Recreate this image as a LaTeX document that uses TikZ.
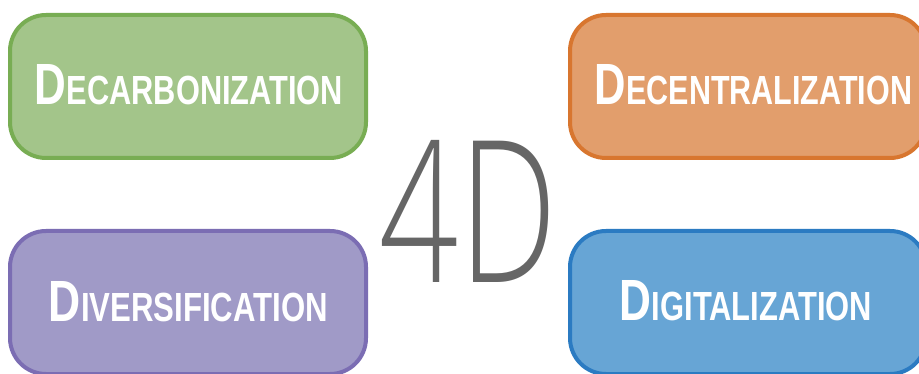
\documentclass[tikz,border=0pt]{standalone}
\usepackage{fontspec}
\setmainfont{Liberation Sans}
\newfontfamily\fourdfont{Open Sans Light}
\definecolor{gfill}{HTML}{A3C58A}
\definecolor{gline}{HTML}{78AD53}
\definecolor{ofill}{HTML}{E29E6C}
\definecolor{oline}{HTML}{D8762F}
\definecolor{pfill}{HTML}{A09AC7}
\definecolor{pline}{HTML}{7B6DB3}
\definecolor{bfill}{HTML}{67A5D5}
\definecolor{bline}{HTML}{2B7BC2}
\definecolor{fourd}{HTML}{666666}
\newcommand{\sclabel}[3]{\resizebox{#1pt}{40pt}{\bfseries\fontsize{20}{20}\selectfont #2\fontsize{14}{14}\selectfont #3}}
\begin{document}
\begin{tikzpicture}[x=1pt,y=-1pt,
  roundbox/.style={rectangle, rounded corners=36pt, line width=4pt,
    minimum width=356pt, minimum height=143pt, inner sep=0pt,
    text=white, anchor=center}]
\useasboundingbox (0,0) rectangle (919,374);
\clip (0,0) rectangle (919,374);
\fill[white] (0,0) rectangle (919,374);
\node[roundbox, fill=gfill, draw=gline] (decarb) at (188,86.5) {};
\node[text=white, inner sep=0pt] (decarbt) at (189,85) {\sclabel{308}{D}{ECARBONIZATION}};
\node[roundbox, fill=ofill, draw=oline] (decen) at (748,86.5) {};
\node[text=white, inner sep=0pt] (decent) at (753.5,85) {\sclabel{317}{D}{ECENTRALIZATION}};
\node[roundbox, fill=pfill, draw=pline] (diver) at (188,302.5) {};
\node[text=white, inner sep=0pt] (divert) at (188.5,302) {\sclabel{279}{D}{IVERSIFICATION}};
\node[roundbox, fill=bfill, draw=bline] (digit) at (748,302.5) {};
\node[text=white, inner sep=0pt] (digitt) at (746,301) {\sclabel{252}{D}{IGITALIZATION}};
\node[text=fourd, inner sep=0pt] (fourd) at (468.5,211) {\resizebox{177pt}{142pt}{\fourdfont 4D}};
\end{tikzpicture}
\end{document}
